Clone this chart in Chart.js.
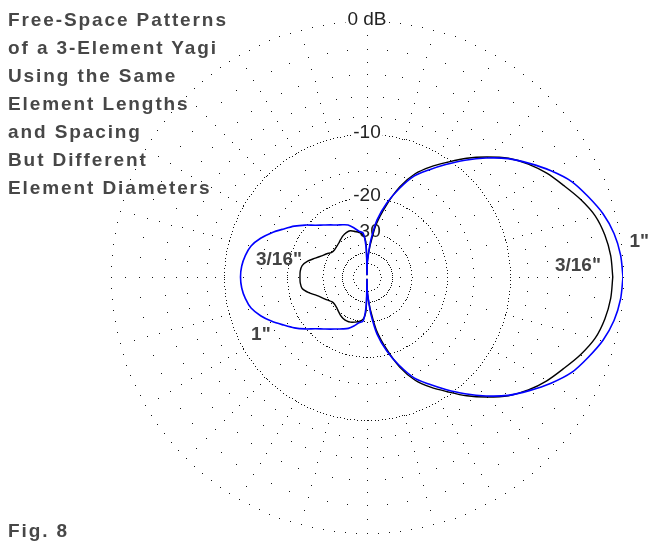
<!DOCTYPE html>
<html>
<head>
<meta charset="utf-8">
<script src="https://cdn.jsdelivr.net/npm/chart.js@4.4.0/dist/chart.umd.min.js"></script>
<style>
  html, body { margin: 0; padding: 0; background: #fff; }
  #wrap { position: relative; width: 649px; height: 544px; overflow: hidden; }
  #canvas { position: absolute; left: 0; top: 0; }
  .note {
    position: absolute; left: 8px; margin: 0;
    font: bold 19px "Liberation Sans", Arial, sans-serif;
    letter-spacing: 1.9px; line-height: 28px;
    color: #474747; white-space: pre;
  }
</style>
</head>
<body>
<div id="wrap">
  <canvas id="canvas" width="649" height="544"></canvas>
  <div class="note" style="top:6px">Free-Space Patterns
of a 3-Element Yagi
Using the Same
Element Lengths
and Spacing
But Different
Element Diameters</div>
  <div class="note" style="top:517px">Fig. 8</div>
</div>
<script>
// azimuth angles in degrees (0 = right, counter-clockwise)
var angles = [
  0, 5, 10, 15, 20, 25, 30, 35, 40, 45, 50, 55, 60, 65, 70, 75, 80, 84, 86, 88, 89,
  90, 91, 92, 95, 100, 105, 110, 115, 120, 125, 130, 135, 140, 145, 150, 155, 160, 165, 170, 175,
  180, 185, 190, 195, 200, 205, 210, 215, 220, 225, 230, 235, 240, 245, 250, 255, 260, 265, 268, 269,
  270, 271, 272, 274, 276, 280, 285, 290, 295, 300, 305, 310, 315, 320, 325, 330, 335, 340, 345, 350, 355, 360
];

// 3/16" elements (black), dB
var thinDb = [
  -0.7, -0.78, -1.0, -1.38, -2.05, -2.85, -3.6, -4.5, -5.6, -7.05, -8.6, -10.35, -12.0, -13.9, -16.8, -21.3, -26.8, -35, -40, -46, -50,
  -80, -42, -34, -31, -29.8, -29.0, -28.3, -28.4, -28.8, -29.5, -30.2, -30.6, -30.9, -30.6, -29.3, -28.0, -26.4, -24.5, -23.3, -23.0,
  -23.0, -23.0, -23.3, -24.8, -26.8, -28.3, -29.5, -30.6, -30.9, -30.6, -30.0, -29.3, -28.8, -28.6, -28.7, -29.2, -29.8, -31, -34, -42,
  -80, -50, -46, -40, -35, -26.8, -21.3, -16.8, -13.9, -12.0, -10.35, -8.6, -7.05, -5.6, -4.5, -3.6, -2.85, -2.05, -1.38, -1.0, -0.78, -0.7
];

// 1" elements (blue), dB
var thickDb = [
  0, -0.1, -0.35, -0.8, -1.45, -2.15, -3.2, -4.4, -5.65, -7.2, -8.9, -10.7, -12.5, -14.3, -17.2, -20.7, -25.5, -33, -40, -47, -52,
  -80, -45, -36, -30.2, -29.3, -27.7, -26.3, -25.6, -24.9, -23.9, -22.8, -21.5, -19.8, -18.2, -16.8, -15.3, -14.0, -13.0, -12.5, -12.2,
  -12.1, -12.2, -12.5, -13.0, -14.0, -15.3, -16.8, -18.2, -19.8, -21.5, -22.8, -23.9, -24.9, -25.7, -26.5, -27.8, -29.3, -30.2, -36, -45,
  -80, -52, -47, -40, -33, -25.5, -20.7, -17.2, -14.3, -12.5, -10.7, -8.9, -7.2, -5.65, -4.4, -3.2, -2.15, -1.45, -0.8, -0.35, -0.1, 0
];

// grid rings and their labels (dB)
var ringDb = [0, -2, -4, -6, -8, -10, -15, -20, -30, -40, -50];
var ringLabels = ['0 dB', '-10', '-20', '-30'];
var ringLabelDb = [0, -10, -20, -30];
// dots along the radial lines (dB)
var spokeDb = [0, -1, -2, -3, -4, -5, -6, -7, -8, -9, -10, -12.5, -15, -17.5, -20, -22.5, -25, -30, -35];
var spokeAngles = [0, 15, 30, 45, 60, 75, 90, 105, 120, 135, 150, 165, 180, 195, 210, 225, 240, 255, 270, 285, 300, 315, 330, 345];

// ARRL log scale: 0.89 per 2 dB
function dbToR(db) {
  return Math.pow(0.89, -db / 2);
}

function toXY(dbList) {
  return dbList.map(function (db, i) {
    var a = angles[i] * Math.PI / 180;
    var r = dbToR(db);
    return { x: r * Math.cos(a), y: r * Math.sin(a) };
  });
}

var polarGrid = {
  id: 'polarGrid',
  beforeDatasetsDraw: function (chart) {
    var ctx = chart.ctx;
    var xs = chart.scales.x, ys = chart.scales.y;
    var cx = xs.getPixelForValue(0), cy = ys.getPixelForValue(0);
    var R = xs.getPixelForValue(1) - cx;
    ctx.save();
    ctx.fillStyle = '#141414';
    function dot(x, y) { ctx.fillRect(Math.round(x), Math.round(y), 1, 1); }

    ringDb.forEach(function (db) {
      var r = R * dbToR(db);
      var stepDeg;
      if (db === 0) stepDeg = 2.5;
      else if (db === -10 || db === -20 || db === -30 || db === -50) stepDeg = 3.5 / r * 180 / Math.PI;
      else if (db === -40) stepDeg = 2 / r * 180 / Math.PI;
      else stepDeg = 5;
      var n = Math.round(360 / stepDeg);
      for (var k = 0; k < n; k++) {
        var a = k * 2 * Math.PI / n;
        dot(cx + r * Math.cos(a), cy - r * Math.sin(a));
      }
    });

    spokeAngles.forEach(function (deg) {
      var a = deg * Math.PI / 180;
      spokeDb.forEach(function (db) {
        var r = R * dbToR(db);
        dot(cx + r * Math.cos(a), cy - r * Math.sin(a));
      });
    });

    // scale labels on white boxes
    ctx.font = '19px "Liberation Sans", Arial, sans-serif';
    ctx.textAlign = 'center';
    ctx.textBaseline = 'middle';
    ringLabels.forEach(function (txt, i) {
      var r = R * dbToR(ringLabelDb[i]);
      var w = ctx.measureText(txt).width;
      var y = cy - r - 1;
      ctx.fillStyle = '#fff';
      ctx.fillRect(cx - w / 2 - 2, y - 9, w + 4, 18);
      ctx.fillStyle = '#222';
      ctx.fillText(txt, cx, y);
    });
    ctx.restore();
  },
  afterDatasetsDraw: function (chart) {
    var ctx = chart.ctx;
    var xs = chart.scales.x, ys = chart.scales.y;
    // curve names, placed at (angle, dB)
    var names = [
      { t: '3/16"', deg: 169, db: -18 },
      { t: '1"', deg: 208.5, db: -12.9 },
      { t: '3/16"', deg: 3, db: -3.3 },
      { t: '1"', deg: 7.3, db: 1.2 }
    ];
    ctx.save();
    ctx.font = 'bold 19px "Liberation Sans", Arial, sans-serif';
    ctx.fillStyle = '#444';
    ctx.textAlign = 'center';
    ctx.textBaseline = 'middle';
    names.forEach(function (n) {
      var a = n.deg * Math.PI / 180, r = dbToR(n.db);
      ctx.fillText(n.t, xs.getPixelForValue(r * Math.cos(a)), ys.getPixelForValue(r * Math.sin(a)));
    });
    ctx.restore();
  }
};

var config = {
  type: 'scatter',
  data: {
    datasets: [{
      label: '1"',
      data: toXY(thickDb),
      showLine: true,
      borderColor: '#0000ff',
      borderWidth: 1.6,
      pointRadius: 0,
      tension: 0.3
    }, {
      label: '3/16"',
      data: toXY(thinDb),
      showLine: true,
      borderColor: '#000000',
      borderWidth: 1.4,
      pointRadius: 0,
      tension: 0.3
    }]
  },
  options: {
    responsive: false,
    animation: false,
    layout: { padding: { left: 111, right: 26, top: 21, bottom: 11 } },
    scales: {
      x: { type: 'linear', min: -1, max: 1, display: false },
      y: { type: 'linear', min: -1, max: 1, display: false }
    },
    plugins: {
      legend: { display: false },
      tooltip: { enabled: false }
    }
  },
  plugins: [polarGrid]
};

var chart = new Chart(document.getElementById('canvas').getContext('2d'), config);
</script>
</body>
</html>
